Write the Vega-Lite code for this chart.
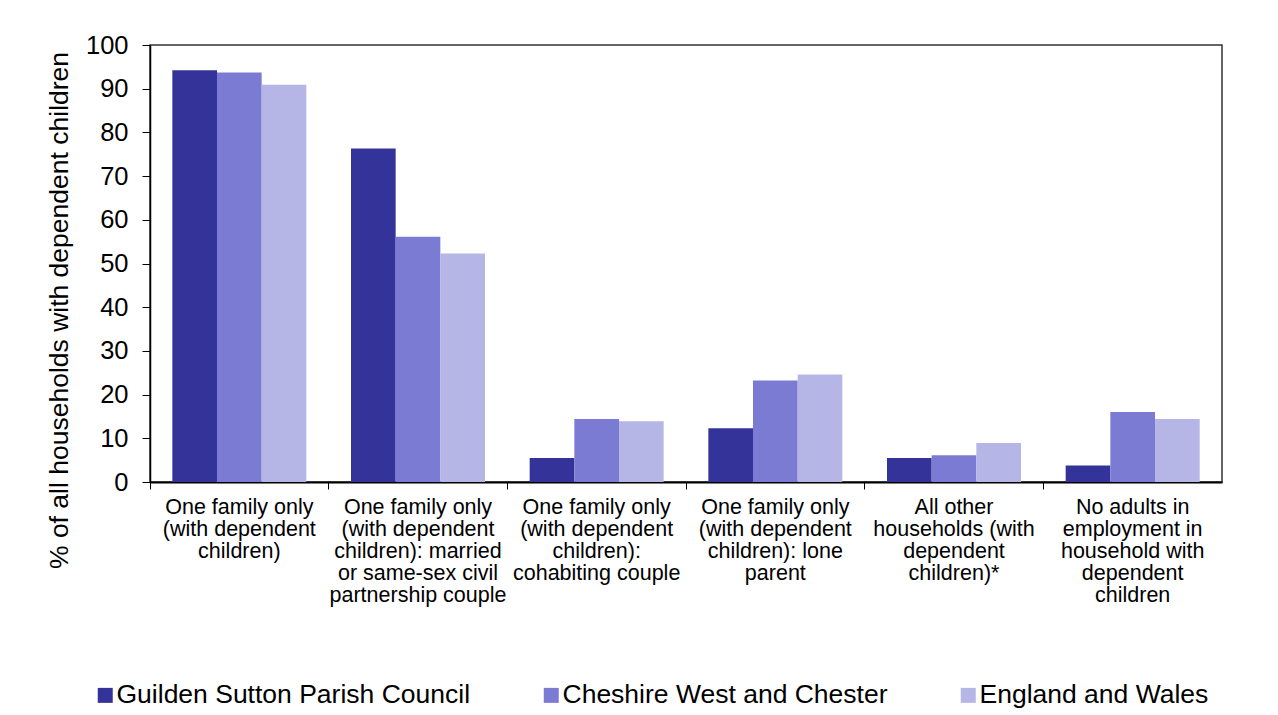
{
  "$schema": "https://vega.github.io/schema/vega-lite/v6.json",
  "width": 1072,
  "height": 437,
  "autosize": {"type": "none"},
  "padding": {"left": 150, "top": 45, "right": 56, "bottom": 233},
  "background": "white",
  "config": {
    "font": "Liberation Sans",
    "view": {"stroke": "#333", "strokeWidth": 1.5},
    "axis": {"labelColor": "#000", "titleColor": "#000", "domainColor": "#000", "tickColor": "#000", "grid": false}
  },
  "data": {
    "values": [
      {"cat": "One family only (with dependent children)", "area": "Guilden Sutton Parish Council", "pct": 94.2},
      {"cat": "One family only (with dependent children)", "area": "Cheshire West and Chester", "pct": 93.7},
      {"cat": "One family only (with dependent children)", "area": "England and Wales", "pct": 90.9},
      {"cat": "One family only (with dependent children): married or same-sex civil partnership couple", "area": "Guilden Sutton Parish Council", "pct": 76.3},
      {"cat": "One family only (with dependent children): married or same-sex civil partnership couple", "area": "Cheshire West and Chester", "pct": 56.1},
      {"cat": "One family only (with dependent children): married or same-sex civil partnership couple", "area": "England and Wales", "pct": 52.3},
      {"cat": "One family only (with dependent children): cohabiting couple", "area": "Guilden Sutton Parish Council", "pct": 5.5},
      {"cat": "One family only (with dependent children): cohabiting couple", "area": "Cheshire West and Chester", "pct": 14.4},
      {"cat": "One family only (with dependent children): cohabiting couple", "area": "England and Wales", "pct": 13.9},
      {"cat": "One family only (with dependent children): lone parent", "area": "Guilden Sutton Parish Council", "pct": 12.3},
      {"cat": "One family only (with dependent children): lone parent", "area": "Cheshire West and Chester", "pct": 23.2},
      {"cat": "One family only (with dependent children): lone parent", "area": "England and Wales", "pct": 24.6},
      {"cat": "All other households (with dependent children)*", "area": "Guilden Sutton Parish Council", "pct": 5.5},
      {"cat": "All other households (with dependent children)*", "area": "Cheshire West and Chester", "pct": 6.1},
      {"cat": "All other households (with dependent children)*", "area": "England and Wales", "pct": 8.9},
      {"cat": "No adults in employment in household with dependent children", "area": "Guilden Sutton Parish Council", "pct": 3.8},
      {"cat": "No adults in employment in household with dependent children", "area": "Cheshire West and Chester", "pct": 16.0},
      {"cat": "No adults in employment in household with dependent children", "area": "England and Wales", "pct": 14.4}
    ]
  },
  "mark": {"type": "bar"},
  "encoding": {
    "x": {
      "field": "cat",
      "type": "nominal",
      "sort": null,
      "scale": {"paddingInner": 0, "paddingOuter": 0},
      "axis": {
        "title": null,
        "labelAngle": 0,
        "bandPosition": 0,
        "labelAlign": "center",
        "labelBaseline": "top",
        "labelFontSize": 21.5,
        "labelLineHeight": 22,
        "labelPadding": 7,
        "labelLimit": 0,
        "tickSize": 7,
        "domainWidth": 2,
        "labelExpr": "datum.value == 'One family only (with dependent children)' ? ['One family only', '(with dependent', 'children)'] : datum.value == 'One family only (with dependent children): married or same-sex civil partnership couple' ? ['One family only', '(with dependent', 'children): married', 'or same-sex civil', 'partnership couple'] : datum.value == 'One family only (with dependent children): cohabiting couple' ? ['One family only', '(with dependent', 'children):', 'cohabiting couple'] : datum.value == 'One family only (with dependent children): lone parent' ? ['One family only', '(with dependent', 'children): lone', 'parent'] : datum.value == 'All other households (with dependent children)*' ? ['All other', 'households (with', 'dependent', 'children)*'] : ['No adults in', 'employment in', 'household with', 'dependent', 'children']"
      }
    },
    "xOffset": {
      "field": "area",
      "type": "nominal",
      "sort": ["Guilden Sutton Parish Council", "Cheshire West and Chester", "England and Wales"],
      "scale": {"paddingInner": 0, "paddingOuter": 0.5}
    },
    "y": {
      "field": "pct",
      "type": "quantitative",
      "scale": {"domain": [0, 100], "nice": false},
      "axis": {
        "title": "% of all households with dependent children",
        "titleFontSize": 26.5,
        "titleFontWeight": "normal",
        "titlePadding": 12,
        "titleY": 265,
        "labelFontSize": 25.5,
        "labelPadding": 14,
        "tickSize": 8,
        "values": [0, 10, 20, 30, 40, 50, 60, 70, 80, 90, 100],
        "domainWidth": 1.5
      }
    },
    "color": {
      "field": "area",
      "type": "nominal",
      "scale": {
        "domain": ["Guilden Sutton Parish Council", "Cheshire West and Chester", "England and Wales"],
        "range": ["#333399", "#7b7bd3", "#b6b6e6"]
      },
      "legend": {
        "title": null,
        "orient": "none",
        "direction": "horizontal",
        "legendX": -58,
        "legendY": 637,
        "symbolType": "square",
        "symbolSize": 225,
        "symbolStrokeWidth": 0,
        "labelFontSize": 26.5,
        "labelColor": "#000",
        "labelOffset": -2,
        "labelLimit": 0,
        "columnPadding": 67
      }
    }
  }
}
